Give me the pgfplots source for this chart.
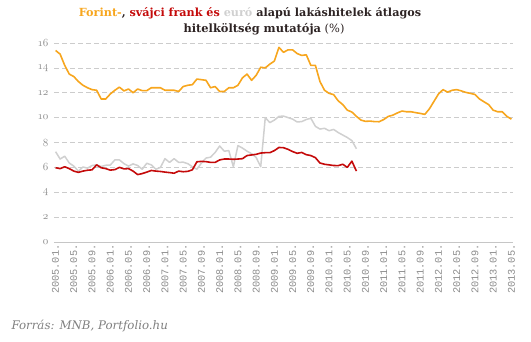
\documentclass[border=0pt]{standalone}
\usepackage{pgfplots}
\pgfplotsset{compat=1.18}
\usepackage{pgfplotstable}
\usepackage{fontspec}
\setmainfont{DejaVu Serif}
\newfontfamily\monofont{Liberation Mono}
\newcommand\osf[1]{{\usefont{OML}{cmm}{m}{it}#1}}
\definecolor{forint}{RGB}{247,166,30}
\definecolor{chf}{RGB}{196,10,10}
\definecolor{eur}{RGB}{208,208,208}
\definecolor{titledark}{RGB}{45,35,35}
\definecolor{labgray}{RGB}{140,140,140}

\pgfplotstableread{
m v
0 15.4
1 15.1
2 14.2
3 13.5
4 13.3
5 12.9
6 12.6
7 12.4
8 12.25
9 12.2
10 11.5
11 11.5
12 11.9
13 12.2
14 12.45
15 12.15
16 12.3
17 12.0
18 12.3
19 12.17
20 12.17
21 12.4
22 12.4
23 12.4
24 12.2
25 12.2
26 12.2
27 12.1
28 12.5
29 12.6
30 12.65
31 13.1
32 13.05
33 13.0
34 12.4
35 12.5
36 12.1
37 12.1
38 12.4
39 12.4
40 12.6
41 13.2
42 13.5
43 13.0
44 13.4
45 14.05
46 14.0
47 14.3
48 14.55
49 15.65
50 15.25
51 15.45
52 15.45
53 15.15
54 15.0
55 15.05
56 14.2
57 14.2
58 12.9
59 12.2
60 11.95
61 11.85
62 11.35
63 11.05
64 10.6
65 10.45
66 10.1
67 9.8
68 9.7
69 9.72
70 9.68
71 9.67
72 9.85
73 10.1
74 10.2
75 10.38
76 10.53
77 10.47
78 10.47
79 10.4
80 10.34
81 10.26
82 10.7
83 11.3
84 11.9
85 12.25
86 12.05
87 12.2
88 12.25
89 12.15
90 12.03
91 11.95
92 11.86
93 11.5
94 11.27
95 11.05
96 10.6
97 10.47
98 10.47
99 10.1
100 9.88
}\forintdata

\pgfplotstableread{
m v
0 5.97
1 5.9
2 6.05
3 5.9
4 5.7
5 5.6
6 5.7
7 5.77
8 5.8
9 6.2
10 5.97
11 5.9
12 5.78
13 5.82
14 6.0
15 5.88
16 5.9
17 5.7
18 5.42
19 5.5
20 5.62
21 5.75
22 5.7
23 5.67
24 5.62
25 5.58
26 5.53
27 5.7
28 5.65
29 5.68
30 5.8
31 6.45
32 6.48
33 6.46
34 6.4
35 6.4
36 6.6
37 6.67
38 6.67
39 6.65
40 6.67
41 6.7
42 6.95
43 7.0
44 7.05
45 7.15
46 7.18
47 7.18
48 7.35
49 7.6
50 7.58
51 7.45
52 7.27
53 7.13
54 7.2
55 7.02
56 6.95
57 6.78
58 6.35
59 6.25
60 6.2
61 6.15
62 6.14
63 6.25
64 6.0
65 6.5
66 5.7
}\chfdata

\pgfplotstableread{
m v
0 7.26
1 6.67
2 6.9
3 6.35
4 6.1
5 5.7
6 6.03
7 5.94
8 6.15
9 6.2
10 6.07
11 6.17
12 6.19
13 6.6
14 6.6
15 6.3
16 6.1
17 6.28
18 6.15
19 5.85
20 6.33
21 6.2
22 5.85
23 6.0
24 6.7
25 6.4
26 6.7
27 6.4
28 6.42
29 6.3
30 6.05
31 5.85
32 6.35
33 6.75
34 6.82
35 7.2
36 7.72
37 7.3
38 7.35
39 6.05
40 7.75
41 7.55
42 7.3
43 7.1
44 6.8
45 6.05
46 10.0
47 9.6
48 9.8
49 10.1
50 10.12
51 10.0
52 9.88
53 9.65
54 9.68
55 9.85
56 9.95
57 9.3
58 9.08
59 9.14
60 8.95
61 9.05
62 8.8
63 8.6
64 8.4
65 8.15
66 7.5
}\eurdata

\begin{document}
\begin{tikzpicture}
\path[use as bounding box] (0pt,0pt) rectangle (531pt,342pt);
\begin{axis}[
  at={(54pt,100pt)}, anchor=south west,
  scale only axis, width=459pt, height=199pt,
  xmin=-0.35, xmax=100.35, ymin=0, ymax=16,
  axis x line*=bottom, axis y line*=left,
  x axis line style={draw=gray!45, line width=0.8pt, -},
  y axis line style={draw=none},
  major tick length=0pt,
  ytick={0,2,...,16},
  yticklabels={\osf{0},\osf{2},\osf{4},\osf{6},\osf{8},\osf{10},\osf{12},\osf{14},\osf{16}},
  yticklabel style={text=labgray, font=\fontsize{11}{12}\selectfont, xshift=-2pt},
  ymajorgrids,
  grid style={draw=gray!40, line width=0.7pt, dash pattern=on 5pt off 3pt},
  xtick={0,4,...,100},
  xticklabels={2005.01.,2005.05.,2005.09.,2006.01.,2006.05.,2006.09.,2007.01.,2007.05.,2007.09.,2008.01.,2008.05.,2008.09.,2009.01.,2009.05.,2009.09.,2010.01.,2010.05.,2010.09.,2011.01.,2011.05.,2011.09.,2012.01.,2012.05.,2012.09.,2013.01.,2013.05.},
  xticklabel style={rotate=90, anchor=east, text=labgray, font=\monofont\fontsize{10.3}{10}\selectfont, xshift=1pt},
  clip=false,
]
\addplot[eur, line width=1.5pt, line join=round] table[x=m,y=v] {\eurdata};
\addplot[chf, line width=1.6pt, line join=round] table[x=m,y=v] {\chfdata};
\addplot[forint, line width=1.6pt, line join=round] table[x=m,y=v] {\forintdata};
\end{axis}
\node[anchor=base, font=\bfseries\fontsize{11.2}{12}\selectfont, text=titledark] at (250pt,325pt)
  {\textcolor{forint}{Forint-}, \textcolor{chf}{svájci frank és} \textcolor{eur}{euró} alapú lakáshitelek átlagos};
\node[anchor=base, font=\fontsize{11.4}{12}\selectfont, text=titledark] at (264pt,309pt)
  {\textbf{hitelköltség mutatója} (\%)};
\node[anchor=base west, font=\itshape\fontsize{11.8}{12}\selectfont, text=gray] at (8pt,12pt)
  {Forrás: MNB, Portfolio.hu};
\end{tikzpicture}
\end{document}
